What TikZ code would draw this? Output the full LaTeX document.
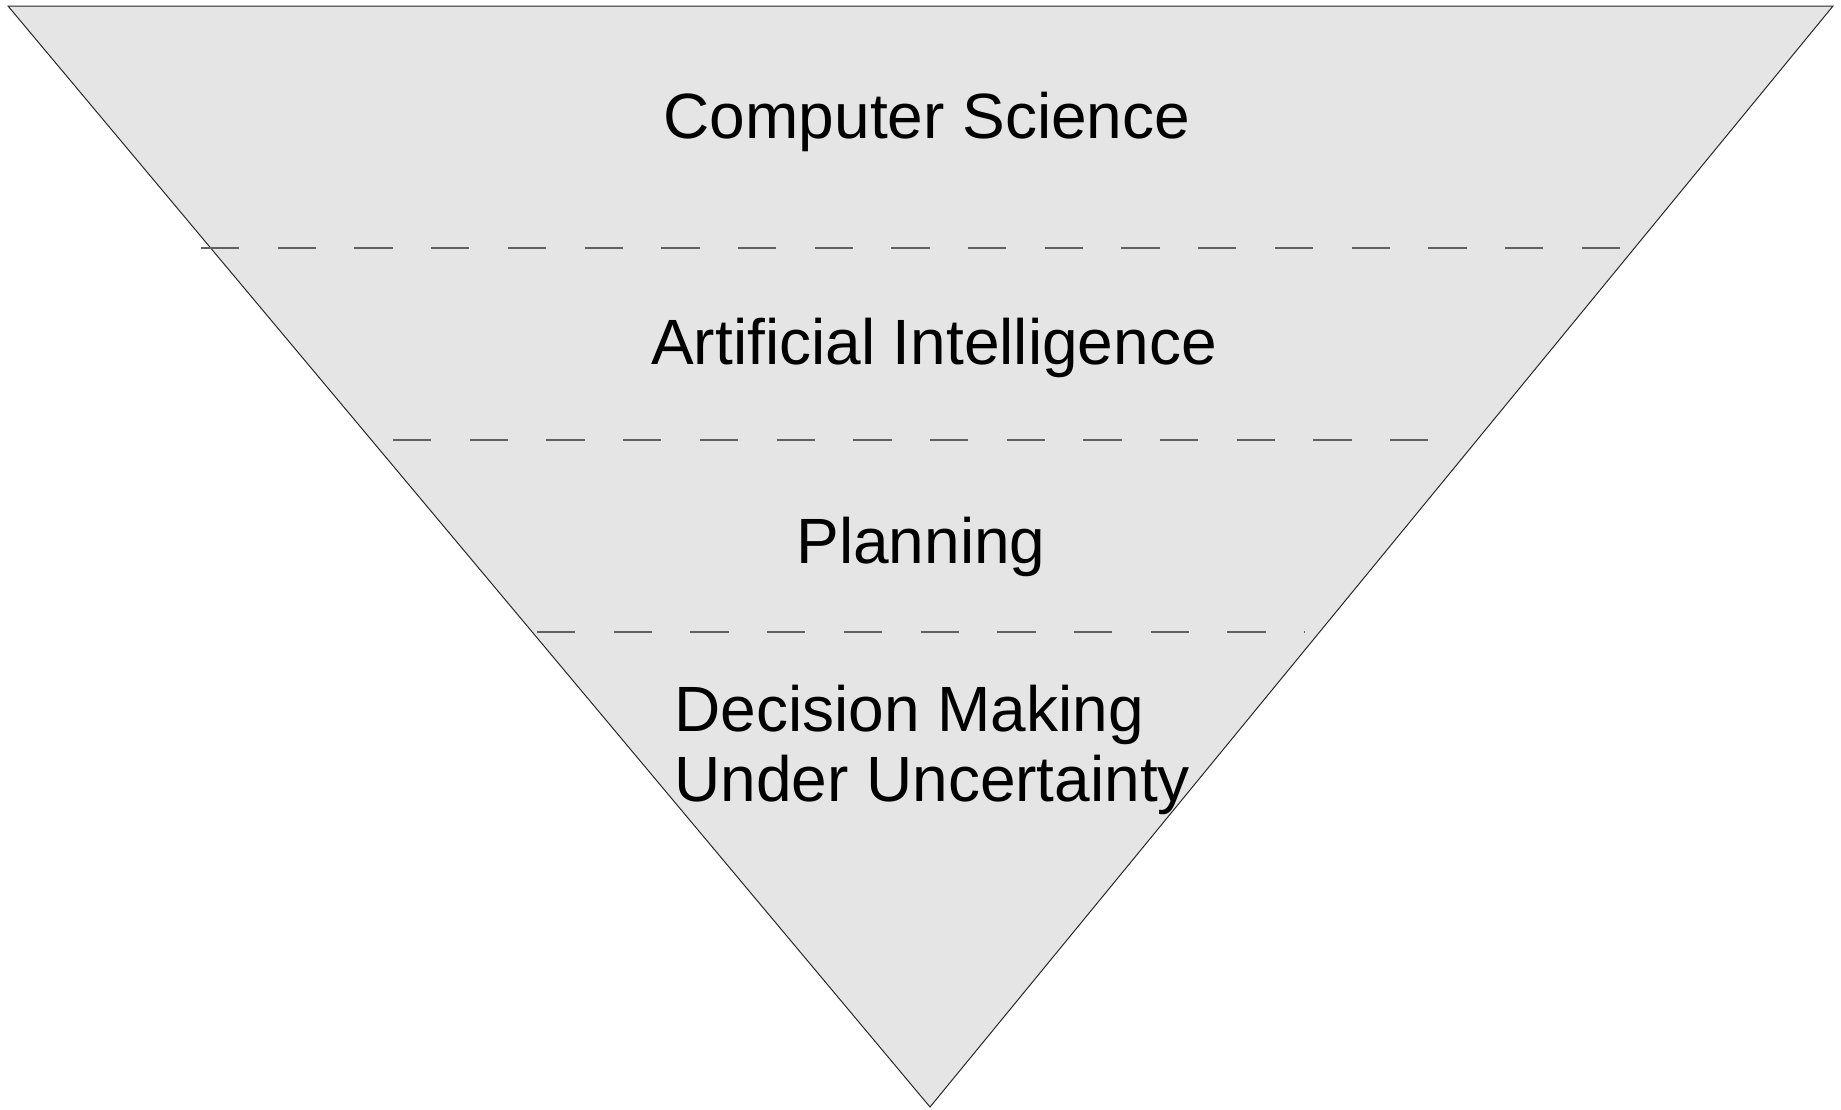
\documentclass[tikz,border=0pt]{standalone}
\usepackage{fontspec}
\setmainfont{Liberation Sans}
\usepackage{tikz}
\definecolor{funnel}{RGB}{229,229,229}
\definecolor{rim}{RGB}{40,40,40}
\definecolor{divider}{RGB}{95,95,95}

\begin{document}
\begin{tikzpicture}[
  x=1pt, y=-1pt,
  tier/.style={anchor=base, inner sep=0pt, font=\fontsize{64}{70}\selectfont},
  divline/.style={draw=divider, line width=1.4pt, dash pattern=on 38.3pt off 38.4pt}
]
\useasboundingbox (0,0) rectangle (1841,1109);

\coordinate (tl) at (8,6);
\coordinate (tr) at (1833,6);
\coordinate (tip) at (930,1107);
\filldraw[fill=funnel, draw=rim, line width=1pt] (tl) -- (tr) -- (tip) -- cycle;

\draw[divline] (201,248) -- (1620,248);
\draw[divline] (393,440) -- (1429,440);
\draw[divline] (537,632) -- (1305,632);

\node[tier] (cs) at (927,138) {Computer Science};
\node[tier] (ai) at (934,364) {Artificial Intelligence};
\node[tier] (plan) at (921,563) {Planning};
% base of a two-line node sits on its last line
\node[tier, anchor=base west, align=left] (dmu) at (674,801) {Decision Making\\Under Uncertainty};

\end{tikzpicture}
\end{document}
